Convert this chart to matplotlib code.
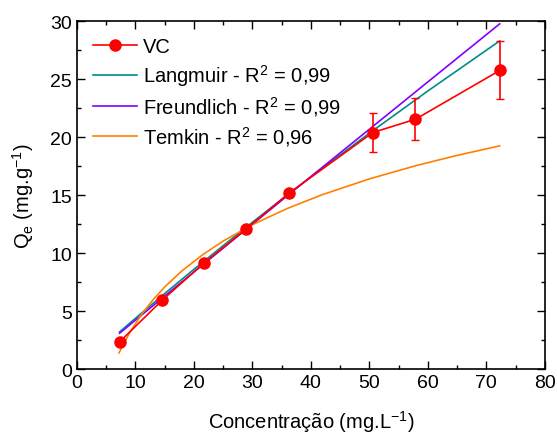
import numpy as np
import matplotlib
matplotlib.use("Agg")
import matplotlib.pyplot as plt
from matplotlib.ticker import MultipleLocator
from matplotlib.lines import Line2D

plt.rcParams['font.family'] = ['Liberation Sans', 'DejaVu Sans']
plt.rcParams['mathtext.fontset'] = 'custom'
plt.rcParams['mathtext.rm'] = 'Liberation Sans'
plt.rcParams['mathtext.it'] = 'Liberation Sans'

# experimental data (VC)
conc = [7.3, 14.6, 21.7, 29.0, 36.2, 50.6, 57.9, 72.3]
qe = [2.35, 5.95, 9.14, 12.1, 15.15, 20.4, 21.55, 25.75]
qe_err = [0, 0, 0, 0, 0, 1.65, 1.8, 2.5]

# fitted curves
x_lang = [7.3, 10, 15, 20, 25, 30, 36.2, 40, 50, 60, 72.3]
y_lang = [3.21, 4.38, 6.51, 8.60, 10.64, 12.66, 15.1, 16.57, 20.34, 23.98, 28.3]

x_freu = [7.3, 20, 36.2, 40, 60, 72.3]
y_freu = [3.1, 8.37, 15.04, 16.60, 24.76, 29.77]

x_temk = [7.2, 9, 11, 13, 15, 18, 21.6, 25, 30, 36, 42, 50, 58, 65, 72.3]
y_temk = [1.4, 3.13, 4.68, 5.97, 7.08, 8.49, 9.90, 11.04, 12.45, 13.86, 15.05, 16.40, 17.55, 18.43, 19.25]

fig = plt.figure(figsize=(5.57, 4.35), dpi=100)
ax = fig.add_axes([0.138, 0.149, 0.840, 0.800])

l_lang, = ax.plot(x_lang, y_lang, color='#008B8B', lw=1.2, zorder=2)
l_freu, = ax.plot(x_freu, y_freu, color='#8000FF', lw=1.2, zorder=2)
l_temk, = ax.plot(x_temk, y_temk, color='#FF8000', lw=1.2, zorder=2)
ax.errorbar(conc, qe, yerr=qe_err, color='red', marker='o', ms=8, lw=1.2,
            capsize=3, elinewidth=1.2, zorder=3)
vc_handle = Line2D([], [], color='red', marker='o', ms=8, lw=1.2)

ax.set_xlim(0, 80)
ax.set_ylim(0, 30)
ax.xaxis.set_major_locator(MultipleLocator(10))
ax.xaxis.set_minor_locator(MultipleLocator(5))
ax.yaxis.set_major_locator(MultipleLocator(5))
ax.yaxis.set_minor_locator(MultipleLocator(2.5))
ax.tick_params(which='both', direction='in', top=True, right=True, labelsize=14)
ax.tick_params(which='major', length=6, width=1)
ax.tick_params(which='minor', length=3, width=1)
for s in ax.spines.values():
    s.set_linewidth(1.2)

ax.set_xlabel('Concentração (mg.L$^{-1}$)', fontsize=14.5, labelpad=12)
ax.set_ylabel('Q$_e$ (mg.g$^{-1}$)', fontsize=14.5, labelpad=10)

ax.legend([vc_handle, l_lang, l_freu, l_temk],
          ['VC', 'Langmuir - R$^2$ = 0,99', 'Freundlich - R$^2$ = 0,99', 'Temkin - R$^2$ = 0,96'],
          loc='upper left', frameon=False, fontsize=14.5, handlelength=2.2,
          borderaxespad=0.4, labelspacing=0.3, handletextpad=0.3)

fig.savefig('out.png')
